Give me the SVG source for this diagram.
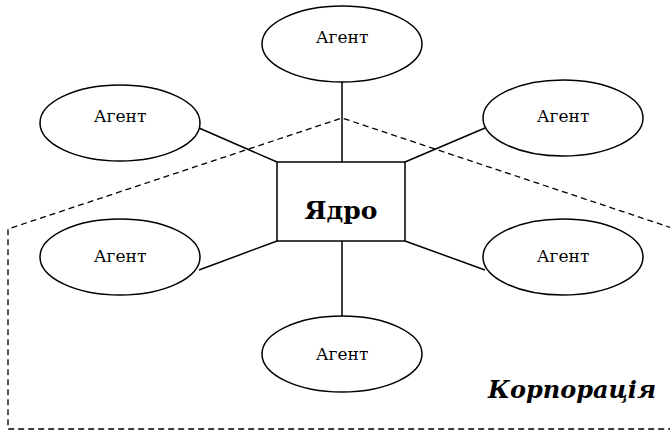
<svg xmlns="http://www.w3.org/2000/svg" width="670" height="437" viewBox="0 0 670 437">
<style>
.sh{fill:#fff;stroke:#000;stroke-width:1.5}
.ln{stroke:#000;stroke-width:1.5;fill:none}
.dash{stroke:#000;stroke-width:1.3;fill:none;stroke-dasharray:6,4}
.ag{font-family:"DejaVu Serif",serif;font-size:17px;text-anchor:middle}
</style>
<rect width="670" height="437" fill="#fff"/>
<g id="corp">
<path class="dash" d="M672,228 L342,118 L8,229 L8,429 L672,429"/>
<text x="656" y="398" font-family="DejaVu Serif,serif" font-size="24" font-weight="bold" font-style="italic" text-anchor="end">Корпорація</text>
</g>
<g id="connectors">
<line class="ln" x1="342" y1="82" x2="342" y2="162"/>
<line class="ln" x1="342" y1="241" x2="342" y2="316"/>
<line class="ln" x1="199" y1="128" x2="277" y2="162"/>
<line class="ln" x1="485" y1="128" x2="405" y2="162"/>
<line class="ln" x1="199" y1="270" x2="277" y2="241"/>
<line class="ln" x1="485" y1="270" x2="405" y2="241"/>
</g>
<g id="core">
<rect class="sh" x="277" y="162" width="128" height="79"/>
<text x="341" y="219" font-family="DejaVu Serif,serif" font-size="25" font-weight="bold" text-anchor="middle">Ядро</text>
</g>
<g id="agent-top"><ellipse class="sh" cx="342" cy="44" rx="80" ry="38"/><text class="ag" x="342" y="43">Агент</text></g>
<g id="agent-tl"><ellipse class="sh" cx="120" cy="123" rx="80" ry="38"/><text class="ag" x="120" y="122">Агент</text></g>
<g id="agent-tr"><ellipse class="sh" cx="563" cy="118" rx="80" ry="38"/><text class="ag" x="563" y="122">Агент</text></g>
<g id="agent-ml"><ellipse class="sh" cx="120" cy="257" rx="80" ry="38"/><text class="ag" x="120" y="262">Агент</text></g>
<g id="agent-mr"><ellipse class="sh" cx="563" cy="257" rx="80" ry="38"/><text class="ag" x="563" y="262">Агент</text></g>
<g id="agent-bot"><ellipse class="sh" cx="342" cy="354" rx="80" ry="38"/><text class="ag" x="342" y="360">Агент</text></g>
</svg>
